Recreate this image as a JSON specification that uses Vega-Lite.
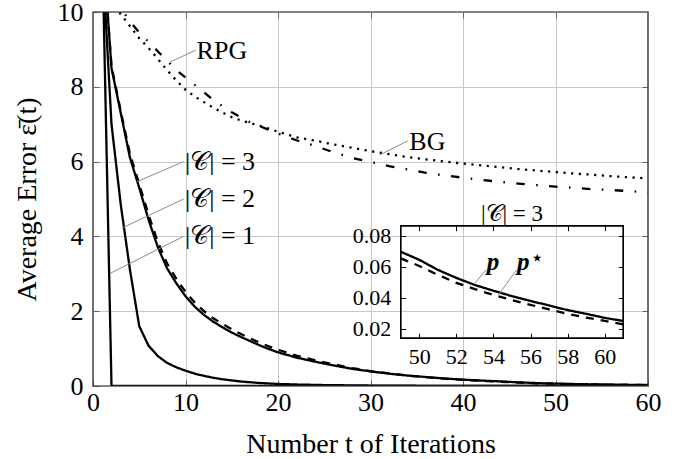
{
  "$schema": "https://vega.github.io/schema/vega-lite/v6.json",
  "width": 555,
  "height": 374,
  "autosize": {"type": "none"},
  "padding": {"left": 93, "top": 12, "right": 38, "bottom": 73},
  "background": "white",
  "config": {
    "view": {"stroke": "#3a3a3a", "strokeWidth": 1.2}
  },
  "datasets": {
    "curves": [
      {"series":"RPG","t":1,"e":11.2},{"series":"RPG","t":2,"e":10.6},{"series":"RPG","t":3,"e":10.1},{"series":"RPG","t":4,"e":9.75},{"series":"RPG","t":5,"e":9.45},{"series":"RPG","t":6,"e":9.2},{"series":"RPG","t":7,"e":8.95},{"series":"RPG","t":8,"e":8.7},{"series":"RPG","t":9,"e":8.45},{"series":"RPG","t":10,"e":8.25},{"series":"RPG","t":11,"e":8.05},{"series":"RPG","t":12,"e":7.85},{"series":"RPG","t":13,"e":7.65},{"series":"RPG","t":14,"e":7.48},{"series":"RPG","t":15,"e":7.32},{"series":"RPG","t":16,"e":7.18},{"series":"RPG","t":17,"e":7.05},{"series":"RPG","t":18,"e":6.95},{"series":"RPG","t":19,"e":6.85},{"series":"RPG","t":20,"e":6.75},{"series":"RPG","t":22,"e":6.57},{"series":"RPG","t":24,"e":6.42},{"series":"RPG","t":26,"e":6.25},{"series":"RPG","t":28,"e":6.1},{"series":"RPG","t":30,"e":5.99},{"series":"RPG","t":32,"e":5.88},{"series":"RPG","t":34,"e":5.79},{"series":"RPG","t":36,"e":5.7},{"series":"RPG","t":38,"e":5.63},{"series":"RPG","t":40,"e":5.57},{"series":"RPG","t":42,"e":5.51},{"series":"RPG","t":44,"e":5.46},{"series":"RPG","t":46,"e":5.41},{"series":"RPG","t":48,"e":5.37},{"series":"RPG","t":50,"e":5.33},{"series":"RPG","t":52,"e":5.3},{"series":"RPG","t":54,"e":5.26},{"series":"RPG","t":56,"e":5.24},{"series":"RPG","t":58,"e":5.21},{"series":"RPG","t":60,"e":5.18},
      {"series":"BG","t":1,"e":10.9},{"series":"BG","t":2,"e":10.3},{"series":"BG","t":3,"e":9.94},{"series":"BG","t":4,"e":9.62},{"series":"BG","t":5,"e":9.3},{"series":"BG","t":6,"e":9.04},{"series":"BG","t":7,"e":8.75},{"series":"BG","t":8,"e":8.45},{"series":"BG","t":9,"e":8.17},{"series":"BG","t":10,"e":7.92},{"series":"BG","t":11,"e":7.74},{"series":"BG","t":12,"e":7.59},{"series":"BG","t":13,"e":7.44},{"series":"BG","t":14,"e":7.31},{"series":"BG","t":15,"e":7.19},{"series":"BG","t":16,"e":7.1},{"series":"BG","t":17,"e":7.03},{"series":"BG","t":18,"e":6.96},{"series":"BG","t":19,"e":6.88},{"series":"BG","t":20,"e":6.8},{"series":"BG","t":22,"e":6.65},{"series":"BG","t":24,"e":6.56},{"series":"BG","t":26,"e":6.46},{"series":"BG","t":28,"e":6.37},{"series":"BG","t":30,"e":6.28},{"series":"BG","t":32,"e":6.2},{"series":"BG","t":34,"e":6.12},{"series":"BG","t":36,"e":6.06},{"series":"BG","t":38,"e":6.0},{"series":"BG","t":40,"e":5.95},{"series":"BG","t":42,"e":5.9},{"series":"BG","t":44,"e":5.85},{"series":"BG","t":46,"e":5.8},{"series":"BG","t":48,"e":5.76},{"series":"BG","t":50,"e":5.72},{"series":"BG","t":52,"e":5.68},{"series":"BG","t":54,"e":5.65},{"series":"BG","t":56,"e":5.61},{"series":"BG","t":58,"e":5.58},{"series":"BG","t":60,"e":5.55},
      {"series":"C1","t":1,"e":11.8},{"series":"C1","t":2,"e":0},{"series":"C1","t":60,"e":0},
      {"series":"C2","t":1,"e":11.5},{"series":"C2","t":2,"e":7.0},{"series":"C2","t":3,"e":4.85},{"series":"C2","t":4,"e":3.1},{"series":"C2","t":5,"e":1.6},{"series":"C2","t":6,"e":1.08},{"series":"C2","t":7,"e":0.8},{"series":"C2","t":8,"e":0.62},{"series":"C2","t":9,"e":0.5},{"series":"C2","t":10,"e":0.41},{"series":"C2","t":11,"e":0.33},{"series":"C2","t":12,"e":0.27},{"series":"C2","t":13,"e":0.22},{"series":"C2","t":14,"e":0.18},{"series":"C2","t":15,"e":0.15},{"series":"C2","t":16,"e":0.12},{"series":"C2","t":18,"e":0.08},{"series":"C2","t":20,"e":0.055},{"series":"C2","t":22,"e":0.04},{"series":"C2","t":25,"e":0.025},{"series":"C2","t":30,"e":0.012},{"series":"C2","t":35,"e":0.006},{"series":"C2","t":40,"e":0.003},{"series":"C2","t":50,"e":0.001},{"series":"C2","t":60,"e":0},
      {"series":"C3p","t":1,"e":12.0},{"series":"C3p","t":2,"e":8.5},{"series":"C3p","t":3,"e":7.3},{"series":"C3p","t":4,"e":6.1},{"series":"C3p","t":5,"e":5.3},{"series":"C3p","t":6,"e":4.45},{"series":"C3p","t":7,"e":3.72},{"series":"C3p","t":8,"e":3.15},{"series":"C3p","t":9,"e":2.75},{"series":"C3p","t":10,"e":2.4},{"series":"C3p","t":11,"e":2.12},{"series":"C3p","t":12,"e":1.9},{"series":"C3p","t":13,"e":1.72},{"series":"C3p","t":14,"e":1.57},{"series":"C3p","t":15,"e":1.43},{"series":"C3p","t":16,"e":1.31},{"series":"C3p","t":17,"e":1.2},{"series":"C3p","t":18,"e":1.09},{"series":"C3p","t":19,"e":0.99},{"series":"C3p","t":20,"e":0.9},{"series":"C3p","t":22,"e":0.76},{"series":"C3p","t":24,"e":0.65},{"series":"C3p","t":26,"e":0.55},{"series":"C3p","t":28,"e":0.46},{"series":"C3p","t":30,"e":0.39},{"series":"C3p","t":32,"e":0.33},{"series":"C3p","t":34,"e":0.28},{"series":"C3p","t":36,"e":0.24},{"series":"C3p","t":38,"e":0.2},{"series":"C3p","t":40,"e":0.17},{"series":"C3p","t":42,"e":0.145},{"series":"C3p","t":44,"e":0.123},{"series":"C3p","t":46,"e":0.097},{"series":"C3p","t":48,"e":0.078},{"series":"C3p","t":49,"e":0.0697},{"series":"C3p","t":50,"e":0.0645},{"series":"C3p","t":51,"e":0.058},{"series":"C3p","t":52,"e":0.0528},{"series":"C3p","t":53,"e":0.0482},{"series":"C3p","t":54,"e":0.0445},{"series":"C3p","t":55,"e":0.041},{"series":"C3p","t":56,"e":0.0379},{"series":"C3p","t":57,"e":0.035},{"series":"C3p","t":58,"e":0.032},{"series":"C3p","t":59,"e":0.0296},{"series":"C3p","t":60,"e":0.027},{"series":"C3p","t":61,"e":0.025},
      {"series":"C3ps","t":1,"e":12.0},{"series":"C3ps","t":2,"e":8.55},{"series":"C3ps","t":3,"e":7.35},{"series":"C3ps","t":4,"e":6.2},{"series":"C3ps","t":5,"e":5.4},{"series":"C3ps","t":6,"e":4.58},{"series":"C3ps","t":7,"e":3.86},{"series":"C3ps","t":8,"e":3.28},{"series":"C3ps","t":9,"e":2.87},{"series":"C3ps","t":10,"e":2.52},{"series":"C3ps","t":11,"e":2.23},{"series":"C3ps","t":12,"e":2.0},{"series":"C3ps","t":13,"e":1.81},{"series":"C3ps","t":14,"e":1.66},{"series":"C3ps","t":15,"e":1.52},{"series":"C3ps","t":16,"e":1.39},{"series":"C3ps","t":17,"e":1.27},{"series":"C3ps","t":18,"e":1.16},{"series":"C3ps","t":19,"e":1.06},{"series":"C3ps","t":20,"e":0.97},{"series":"C3ps","t":22,"e":0.81},{"series":"C3ps","t":24,"e":0.69},{"series":"C3ps","t":26,"e":0.58},{"series":"C3ps","t":28,"e":0.48},{"series":"C3ps","t":30,"e":0.4},{"series":"C3ps","t":32,"e":0.335},{"series":"C3ps","t":34,"e":0.28},{"series":"C3ps","t":36,"e":0.235},{"series":"C3ps","t":38,"e":0.195},{"series":"C3ps","t":40,"e":0.163},{"series":"C3ps","t":42,"e":0.138},{"series":"C3ps","t":44,"e":0.115},{"series":"C3ps","t":46,"e":0.092},{"series":"C3ps","t":48,"e":0.073},{"series":"C3ps","t":49,"e":0.0654},{"series":"C3ps","t":50,"e":0.0605},{"series":"C3ps","t":51,"e":0.0548},{"series":"C3ps","t":52,"e":0.0496},{"series":"C3ps","t":53,"e":0.0455},{"series":"C3ps","t":54,"e":0.0418},{"series":"C3ps","t":55,"e":0.0385},{"series":"C3ps","t":56,"e":0.0354},{"series":"C3ps","t":57,"e":0.0324},{"series":"C3ps","t":58,"e":0.0296},{"series":"C3ps","t":59,"e":0.0272},{"series":"C3ps","t":60,"e":0.025},{"series":"C3ps","t":61,"e":0.0228}
    ],
    "mainLabels": [
      {"label":"RPG","t":11.2,"e":8.96},
      {"label":"BG","t":34.2,"e":6.53},
      {"label":"|𝒞| = 3","t":9.95,"e":5.99},
      {"label":"|𝒞| = 2","t":9.95,"e":5.0},
      {"label":"|𝒞| = 1","t":9.95,"e":4.01}
    ],
    "mainPins": [
      {"t":8.32,"e":8.66,"t2":11.1,"e2":8.98},
      {"t":31.0,"e":6.18,"t2":34.0,"e2":6.55},
      {"t":4.72,"e":5.46,"t2":9.8,"e2":6.0},
      {"t":3.1,"e":4.22,"t2":9.8,"e2":5.0},
      {"t":1.84,"e":3.01,"t2":9.8,"e2":4.0}
    ],
    "mainFrame": [{"t":0,"t2":60,"e":0,"e2":10}],
    "insetFrame": [{"t":49,"t2":61,"e":0.0138,"e2":0.0865}],
    "insetTitle": [{"label":"|𝒞| = 3","t":55,"e":0.094}],
    "insetP": [{"label":"p","t":53.98,"e":0.0578},{"label":"p","t":55.6,"e":0.0578}],
    "insetStar": [{"label":"⋆","t":56.35,"e":0.0655}],
    "insetPins": [
      {"t":53.0,"e":0.0493,"t2":53.6,"e2":0.0579},
      {"t":54.26,"e":0.0417,"t2":55.25,"e2":0.0579}
    ]
  },
  "layer": [
    {
      "data": {"name": "curves"},
      "mark": {"type": "line", "clip": true, "strokeWidth": 2.3, "color": "black", "strokeCap": "butt"},
      "encoding": {
        "x": {"field": "t", "type": "quantitative", "scale": {"domain": [0, 60], "nice": false, "zero": false},
              "axis": {"orient": "bottom", "values": [0,10,20,30,40,50,60], "domain": false, "labelFlush": false, "labelOverlap": false, "grid": true, "gridColor": "#c8c8c8", "gridWidth": 1, "tickSize": -6, "tickColor": "#666666", "labelFont": "Liberation Serif, DejaVu Serif, serif", "labelFontSize": 26, "labelColor": "black", "labelPadding": 9, "title": "Number t of Iterations", "titleFont": "Liberation Serif, DejaVu Serif, serif", "titleFontSize": 28, "titleFontWeight": "normal", "titleColor": "black", "titleY": 66, "titleBaseline": "alphabetic"}},
        "y": {"field": "e", "type": "quantitative", "scale": {"domain": [0, 10], "nice": false, "zero": false},
              "axis": {"orient": "left", "values": [0,2,4,6,8,10], "domain": false, "labelFlush": false, "labelOverlap": false, "grid": true, "gridColor": "#c8c8c8", "gridWidth": 1, "tickSize": -6, "tickColor": "#666666", "labelFont": "Liberation Serif, DejaVu Serif, serif", "labelFontSize": 26, "labelColor": "black", "labelPadding": 16, "title": "Average Error ε̄(t)", "titleFont": "Liberation Serif, DejaVu Serif, serif", "titleFontSize": 28, "titleFontWeight": "normal", "titleColor": "black", "titleX": -58, "titleY": 187, "titleBaseline": "alphabetic", "titleAlign": "center", "titleAngle": 270}},
        "strokeDash": {"field": "series", "type": "nominal", "legend": null,
              "scale": {"domain": ["RPG","BG","C1","C2","C3p","C3ps"], "range": [[8.5,11.4,1.6,11.4],[2.2,5.5],[1,0],[1,0],[1,0],[8,7]]}}
      }
    },
    {
      "data": {"name": "mainPins"},
      "mark": {"type": "rule", "color": "#8a8a8a", "strokeWidth": 1},
      "encoding": {
        "x": {"field": "t", "type": "quantitative", "scale": {"domain": [0, 60], "nice": false, "zero": false}, "axis": null},
        "y": {"field": "e", "type": "quantitative", "scale": {"domain": [0, 10], "nice": false, "zero": false}, "axis": null},
        "x2": {"field": "t2"},
        "y2": {"field": "e2"}
      }
    },
    {
      "data": {"name": "mainLabels"},
      "mark": {"type": "text", "align": "left", "baseline": "middle", "fontSize": 26, "font": "Liberation Serif", "color": "black"},
      "encoding": {
        "x": {"field": "t", "type": "quantitative", "scale": {"domain": [0, 60], "nice": false, "zero": false}, "axis": null},
        "y": {"field": "e", "type": "quantitative", "scale": {"domain": [0, 10], "nice": false, "zero": false}, "axis": null},
        "text": {"field": "label"}
      }
    },
    {
      "data": {"name": "mainFrame"},
      "mark": {"type": "rect", "fill": null, "stroke": "#3a3a3a", "strokeWidth": 1.2},
      "encoding": {
        "x": {"field": "t", "type": "quantitative", "scale": {"domain": [0, 60], "nice": false, "zero": false},
              "axis": {"orient": "top", "values": [10,20,30,40,50], "domain": false, "grid": false, "labels": false, "tickSize": -6, "tickColor": "#666666", "title": null}},
        "x2": {"field": "t2"},
        "y": {"field": "e", "type": "quantitative", "scale": {"domain": [0, 10], "nice": false, "zero": false},
              "axis": {"orient": "right", "values": [2,4,6,8], "domain": false, "grid": false, "labels": false, "tickSize": -6, "tickColor": "#666666", "title": null}},
        "y2": {"field": "e2"}
      }
    },
    {
      "data": {"name": "insetFrame"},
      "mark": {"type": "rect", "fill": null, "stroke": "black", "strokeWidth": 1.4},
      "encoding": {
        "x": {"field": "t", "type": "quantitative", "scale": {"domain": [32.412, 62.332], "nice": false, "zero": false},
              "axis": {"orient": "bottom", "offset": -47.7, "values": [50,52,54,56,58,60], "domain": false, "labelFlush": false, "labelOverlap": false, "grid": false, "tickSize": -5, "tickColor": "black", "labelFont": "Liberation Serif, DejaVu Serif, serif", "labelFontSize": 22, "labelColor": "black", "labelPadding": 13, "title": null}},
        "x2": {"field": "t2"},
        "y": {"field": "e", "type": "quantitative", "scale": {"domain": [-0.016998, 0.22447], "nice": false, "zero": false},
              "axis": {"orient": "left", "offset": -307.7, "values": [0.02,0.04,0.06,0.08], "format": ".2f", "domain": false, "labelFlush": false, "labelOverlap": false, "grid": false, "tickSize": -5, "tickColor": "black", "labelFont": "Liberation Serif, DejaVu Serif, serif", "labelFontSize": 22, "labelColor": "black", "labelPadding": 15, "title": null}},
        "y2": {"field": "e2"}
      }
    },
    {
      "data": {"name": "insetFrame"},
      "mark": {"type": "rect", "fill": null, "stroke": "black", "strokeWidth": 1.4},
      "encoding": {
        "x": {"field": "t", "type": "quantitative", "scale": {"domain": [32.412, 62.332], "nice": false, "zero": false},
              "axis": {"orient": "top", "offset": -213.7, "values": [50,52,54,56,58,60], "domain": false, "grid": false, "labels": false, "tickSize": -5, "tickColor": "black", "title": null}},
        "x2": {"field": "t2"},
        "y": {"field": "e", "type": "quantitative", "scale": {"domain": [-0.016998, 0.22447], "nice": false, "zero": false},
              "axis": {"orient": "right", "offset": -24.7, "values": [0.02,0.04,0.06,0.08], "domain": false, "grid": false, "labels": false, "tickSize": -5, "tickColor": "black", "title": null}},
        "y2": {"field": "e2"}
      }
    },
    {
      "data": {"name": "curves"},
      "transform": [{"filter": {"field": "series", "oneOf": ["C3p", "C3ps"]}}, {"filter": "datum.t >= 49"}],
      "mark": {"type": "line", "strokeWidth": 2.3, "color": "black", "strokeCap": "butt"},
      "encoding": {
        "x": {"field": "t", "type": "quantitative", "scale": {"domain": [32.412, 62.332], "nice": false, "zero": false}, "axis": null},
        "y": {"field": "e", "type": "quantitative", "scale": {"domain": [-0.016998, 0.22447], "nice": false, "zero": false}, "axis": null},
        "strokeDash": {"field": "series", "type": "nominal", "legend": null,
              "scale": {"domain": ["RPG","BG","C1","C2","C3p","C3ps"], "range": [[8.5,11.4,1.6,11.4],[2.2,5.5],[1,0],[1,0],[1,0],[8,7]]}}
      }
    },
    {
      "data": {"name": "insetPins"},
      "mark": {"type": "rule", "color": "#8a8a8a", "strokeWidth": 1},
      "encoding": {
        "x": {"field": "t", "type": "quantitative", "scale": {"domain": [32.412, 62.332], "nice": false, "zero": false}, "axis": null},
        "y": {"field": "e", "type": "quantitative", "scale": {"domain": [-0.016998, 0.22447], "nice": false, "zero": false}, "axis": null},
        "x2": {"field": "t2"},
        "y2": {"field": "e2"}
      }
    },
    {
      "data": {"name": "insetTitle"},
      "mark": {"type": "text", "align": "center", "baseline": "middle", "fontSize": 23, "font": "Liberation Serif", "fill": "black"},
      "encoding": {
        "x": {"field": "t", "type": "quantitative", "scale": {"domain": [32.412, 62.332], "nice": false, "zero": false}, "axis": null},
        "y": {"field": "e", "type": "quantitative", "scale": {"domain": [-0.016998, 0.22447], "nice": false, "zero": false}, "axis": null},
        "text": {"field": "label"}
      }
    },
    {
      "data": {"name": "insetP"},
      "mark": {"type": "text", "align": "center", "baseline": "alphabetic", "fontSize": 25, "font": "Liberation Serif", "fontStyle": "italic", "fontWeight": "bold", "fill": "black"},
      "encoding": {
        "x": {"field": "t", "type": "quantitative", "scale": {"domain": [32.412, 62.332], "nice": false, "zero": false}, "axis": null},
        "y": {"field": "e", "type": "quantitative", "scale": {"domain": [-0.016998, 0.22447], "nice": false, "zero": false}, "axis": null},
        "text": {"field": "label"}
      }
    },
    {
      "data": {"name": "insetStar"},
      "mark": {"type": "text", "align": "center", "baseline": "middle", "fontSize": 22, "font": "DejaVu Sans", "fill": "black"},
      "encoding": {
        "x": {"field": "t", "type": "quantitative", "scale": {"domain": [32.412, 62.332], "nice": false, "zero": false}, "axis": null},
        "y": {"field": "e", "type": "quantitative", "scale": {"domain": [-0.016998, 0.22447], "nice": false, "zero": false}, "axis": null},
        "text": {"field": "label"}
      }
    }
  ],
  "resolve": {"scale": {"x": "independent", "y": "independent"}, "axis": {"x": "independent", "y": "independent"}}
}
